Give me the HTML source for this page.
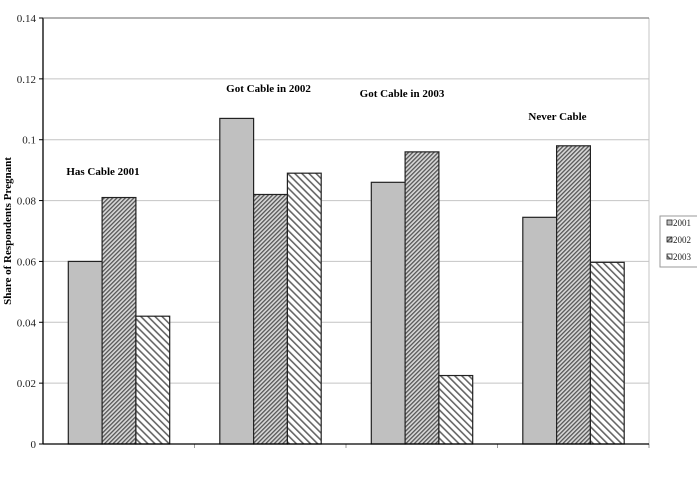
<!DOCTYPE html>
<html><head><meta charset="utf-8"><style>
body{margin:0;background:#fff;}
svg{display:block;font-family:"Liberation Serif",serif;}
</style></head><body>
<svg id="chart" width="697" height="481" viewBox="0 0 697 481">
<defs>
<pattern id="p2002" patternUnits="userSpaceOnUse" width="3" height="3" patternTransform="rotate(45)">
<rect width="3" height="3" fill="#d8d8d8"/><rect width="1.3" height="3" fill="#555"/>
</pattern>
<pattern id="p2003" patternUnits="userSpaceOnUse" width="5" height="5" patternTransform="rotate(-45)">
<rect width="5" height="5" fill="#fff"/><rect width="1.6" height="5" fill="#666"/>
</pattern>
</defs>
<g id="grid"></g>
<g id="bars"></g>
<g id="axes"></g>
<g id="labels"></g>
<text transform="translate(11,231) rotate(-90)" text-anchor="middle" font-size="11" font-weight="bold">Share of Respondents Pregnant</text>
<g>
<rect x="660" y="216" width="40" height="51" fill="#fff" stroke="#999" stroke-width="1"/>
<g id="legend"></g>
</g>
</svg>
<script>
const categories = ["Has Cable 2001","Got Cable in 2002","Got Cable in 2003","Never Cable"];
const seriesNames = ["2001","2002","2003"];
const s2001 = [0.060,0.107,0.086,0.0745];
const s2002 = [0.081,0.082,0.096,0.098];
const s2003 = [0.042,0.089,0.0225,0.0597];
const yTicks = [0,0.02,0.04,0.06,0.08,0.1,0.12,0.14];
const yTickLabels = ["0","0.02","0.04","0.06","0.08","0.1","0.12","0.14"];
const labelValues = [0.0897,0.117,0.1153,0.1078];

const NS="http://www.w3.org/2000/svg";
const L=43,R=649,T=18,B=444,yMax=0.14;
const y=v=>B-(v/yMax)*(B-T);
const cw=(R-L)/categories.length;
const x=i=>L+i*cw;
const labelDx=[-16,-2,-20,-16];
function mk(tag,attrs,parent){const e=document.createElementNS(NS,tag);for(const k in attrs)e.setAttribute(k,attrs[k]);parent.appendChild(e);return e;}
const grid=document.getElementById('grid'),bars=document.getElementById('bars'),axes=document.getElementById('axes'),labels=document.getElementById('labels'),legend=document.getElementById('legend');
yTicks.forEach((t,i)=>{
  if(t>0){const g=mk('line',{x1:L,x2:R,y1:y(t),y2:y(t),stroke:'#c4c4c4','stroke-width':1},grid);
  
  }
  const tk=mk('line',{x1:L-4,x2:L,y1:y(t),y2:y(t),stroke:'#000'},axes);
  
  
  const tx=mk('text',{x:L-7,y:y(t)+4,'text-anchor':'end','font-size':11,fill:'#222'},axes);
  tx.textContent=yTickLabels[i];
  
  
});
mk('line',{x1:R,x2:R,y1:T,y2:B,stroke:'#c4c4c4'},grid);
const series=[s2001,s2002,s2003];
const fills=['#c0c0c0','url(#p2002)','url(#p2003)'];
const bw=33.8,pad=25.3;
categories.forEach((c,i)=>{
  series.forEach((s,j)=>{
    const bx=x(i)+pad+j*bw;
    const r=mk('rect',{x:bx,y:y(s[i]),width:bw,height:B-y(s[i]),fill:fills[j],stroke:'#222','stroke-width':1.2},bars);
    
    
  });
  const lb=mk('text',{x:x(i)+pad+1.5*bw+labelDx[i],y:y(labelValues[i])+4,'text-anchor':'middle','font-size':11,'font-weight':'bold'},labels);
  lb.textContent=c;
  
  
  const xt=mk('line',{x1:x(i+1),x2:x(i+1),y1:B,y2:B+4,stroke:'#999'},axes);
  
  
});
mk('line',{x1:L,x2:R,y1:B,y2:B,stroke:'#000','stroke-width':1.3},axes);
mk('line',{x1:L,x2:L,y1:T,y2:B,stroke:'#000','stroke-width':1.3},axes);
mk('line',{x1:L,x2:R,y1:T,y2:T,stroke:'#666','stroke-width':1},axes);
seriesNames.forEach((n,j)=>{
  const ly=224+j*17;
  const g=mk('g',{},legend);
  
  
  mk('rect',{x:667,y:ly-4,width:5,height:5,fill:fills[j],stroke:'#222','stroke-width':0.8},g);
  const t=mk('text',{x:673,y:ly+2,'font-size':9,fill:'#222'},g);
  t.textContent=n;
});
</script>
</body></html>
